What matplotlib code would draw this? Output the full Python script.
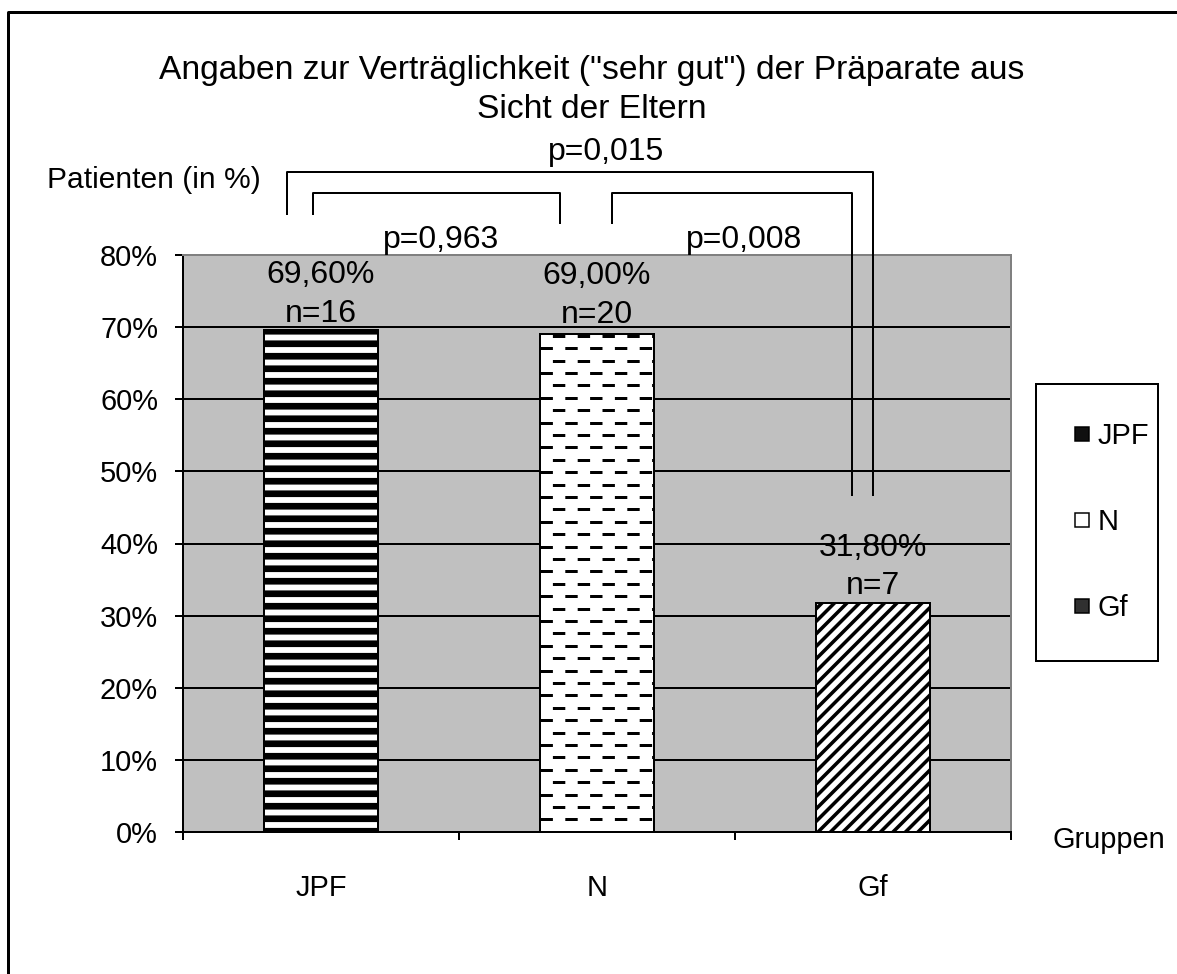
import numpy as np
import matplotlib
matplotlib.use("Agg")
import matplotlib.pyplot as plt
from matplotlib.lines import Line2D
from matplotlib.patches import Patch

plt.rcParams["font.family"] = ["Liberation Sans", "DejaVu Sans"]
plt.rcParams["lines.scale_dashes"] = False

DPI = 75
PT = 72 / DPI  # pixel -> point

# data
categories = ["JPF", "N", "Gf"]
values = [69.6, 69.0, 31.8]
value_labels = ["69,60%", "69,00%", "31,80%"]
n_counts = [16, 20, 7]
hatches = ["-", "", "//"]
hatch_widths = [6.4, 1.0, 3.4]
label_offsets = [1.5, 4.5, 1.5]  # px above bar top
y_ticks = [0, 10, 20, 30, 40, 50, 60, 70, 80]

# significance brackets (category x, percent y)
p_texts = ["p=0,015", "p=0,963", "p=0,008"]
p_pos = [(1.033, 94.3), (0.435, 82.1), (1.533, 82.1)]
bracket_outer_x = [-0.123, -0.123, 2.0, 2.0]
bracket_outer_y = [85.7, 91.5, 91.5, 46.7]
bracket_left_x = [-0.029, -0.029, 0.866, 0.866]
bracket_left_y = [85.7, 88.6, 88.6, 84.4]
bracket_right_x = [1.054, 1.054, 1.924, 1.924]
bracket_right_y = [84.4, 88.6, 88.6, 46.7]

FS = 29 * PT
LABEL_FS = 32 * PT
TITLE_FS = 33.6 * PT

fig = plt.figure(figsize=(1177 / DPI, 974 / DPI), dpi=DPI)
fig.patch.set_facecolor("white")
ax = fig.add_axes([183 / 1177, 1 - 832 / 974, 828 / 1177, 577 / 974])
ax.set_facecolor("#c0c0c0")

x = np.arange(len(categories))
bars = []
for i, cat in enumerate(categories):
    b = ax.bar(x[i], values[i], width=0.41, color="white", edgecolor="black",
               linewidth=2 * PT, hatch=hatches[i] or None, zorder=3)[0]
    if hasattr(b, "set_hatch_linewidth"):
        b.set_hatch_linewidth(hatch_widths[i])
    bars.append(b)

ax.set_xlim(-0.5, 2.5)
ax.set_ylim(0, 80)

# staggered dash pattern for N
bar_n = bars[1]
px_per_unit = 577 / 80
step = 12.4 / px_per_unit
rows = np.arange(values[1] - 0.2, 0, -step)
dash = 12.4 * PT
x0, x1 = bar_n.get_x(), bar_n.get_x() + bar_n.get_width()
for k, style in enumerate([(dash, (dash, dash)), (0, (dash, dash))]):
    lc = ax.hlines(rows[k::2], x0, x1, colors="black", linewidth=3 * PT,
                   linestyles=[style], zorder=3.5)
    lc.set_capstyle("butt")
    lc.set_clip_path(bar_n)

# grid
ax.set_yticks(y_ticks)
ax.set_yticklabels([f"{t}%" for t in y_ticks])
ax.yaxis.grid(True, color="black", linewidth=2 * PT)
ax.get_ygridlines()[-1].set_visible(False)
ax.set_axisbelow(True)

ax.set_xticks(x)
ax.set_xticklabels(categories)
ax.set_xticks([-0.5, 0.5, 1.5, 2.5], minor=True)
ax.tick_params(axis="x", which="major", length=0, pad=42 * PT, labelsize=FS)
ax.tick_params(axis="x", which="minor", length=8 * PT, width=2 * PT, direction="out")
ax.tick_params(axis="y", length=8 * PT, width=2 * PT, direction="out",
               pad=17 * PT, labelsize=FS)

for s in ["left", "bottom"]:
    ax.spines[s].set_color("black")
    ax.spines[s].set_linewidth(2 * PT)
for s in ["top", "right"]:
    ax.spines[s].set_color("#808080")
    ax.spines[s].set_linewidth(2 * PT)

# value labels
for i in range(len(categories)):
    ax.annotate(f"{value_labels[i]}\nn={n_counts[i]}", xy=(x[i], values[i]),
                xytext=(0, label_offsets[i] * PT), textcoords="offset points",
                ha="center", va="bottom", fontsize=LABEL_FS, linespacing=1.37,
                zorder=5)

# brackets
for bx, by in [(bracket_outer_x, bracket_outer_y), (bracket_left_x, bracket_left_y),
               (bracket_right_x, bracket_right_y)]:
    ax.plot(bx, by, color="black", linewidth=2 * PT, clip_on=False, zorder=6)
for t, (px, py) in zip(p_texts, p_pos):
    ax.text(px, py, t, ha="center", va="center", fontsize=LABEL_FS, clip_on=False)

# texts
fig.text(592 / 1177, 1 - 90 / 974,
         "Angaben zur Verträglichkeit (\"sehr gut\") der Präparate aus\nSicht der Eltern",
         ha="center", va="center", fontsize=TITLE_FS, linespacing=1.35)
fig.text(47 / 1177, 1 - 180 / 974, "Patienten (in %)", ha="left", va="center",
         fontsize=30 * PT)
fig.text(1053 / 1177, 1 - 840 / 974, "Gruppen", ha="left", va="center", fontsize=FS)

# legend (small proxy squares like the original)
handles = [Patch(facecolor="#101010", edgecolor="black", linewidth=1.5 * PT),
           Patch(facecolor="white", edgecolor="black", linewidth=1.5 * PT),
           Patch(facecolor="#303030", edgecolor="black", linewidth=1.5 * PT)]
leg = fig.legend(handles, categories, loc="center left",
                 bbox_to_anchor=(1036 / 1177, 1 - 661 / 974, 122 / 1177, 277 / 974),
                 mode="expand", borderaxespad=0, fontsize=FS, frameon=True,
                 fancybox=False, framealpha=1, edgecolor="black",
                 handlelength=0.5, handleheight=0.4, handletextpad=0.3,
                 labelspacing=2.0, borderpad=1.33)
leg.get_frame().set_linewidth(2 * PT)

# outer frame (top and left only)
fig.add_artist(Line2D([8 / 1177, 8 / 1177, 1.0], [0.0, 1 - 12 / 974, 1 - 12 / 974],
                      transform=fig.transFigure, color="black", linewidth=3 * PT))

fig.savefig("out.png", dpi=DPI)
